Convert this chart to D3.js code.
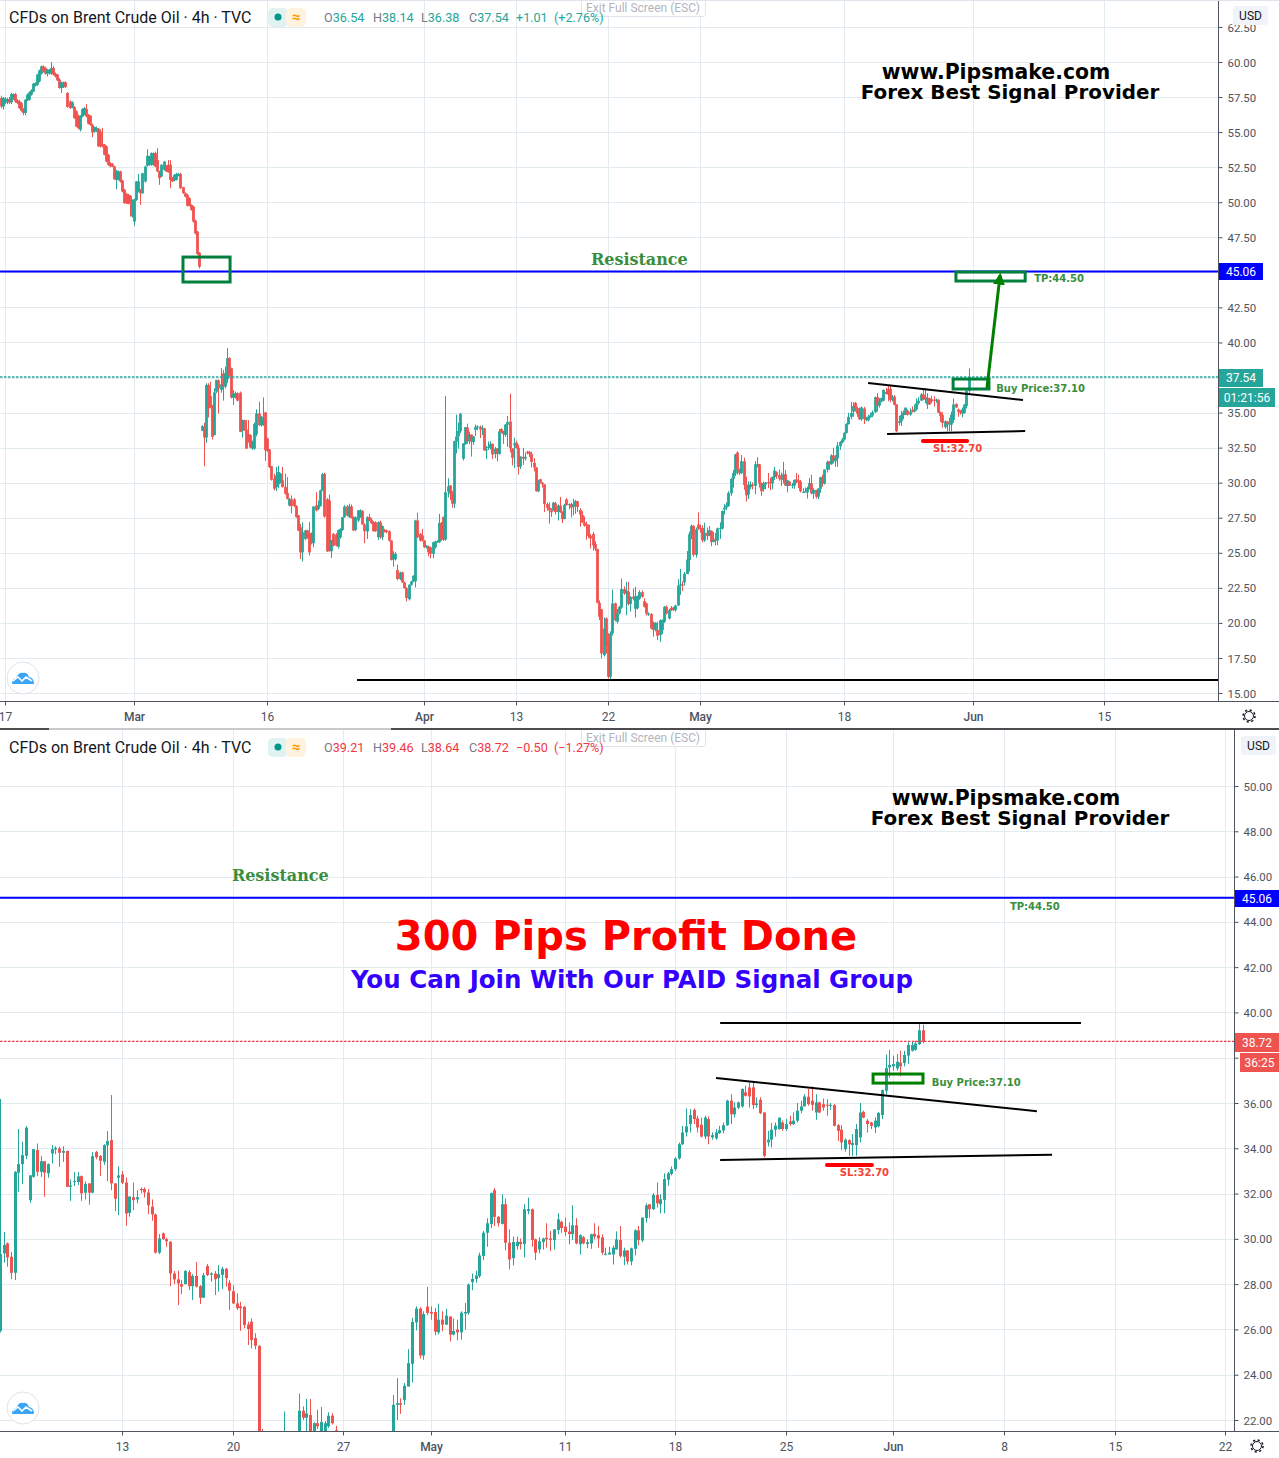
<!DOCTYPE html>
<html>
<head>
<meta charset="utf-8">
<script src="https://cdn.jsdelivr.net/npm/d3@7"></script>
<style>
    html, body { margin: 0; padding: 0; background: #fff; }
    svg { display: block; }
    text { font-family: Roboto, Arial, sans-serif; }
</style>
</head>
<body>
<div id="chart"></div>
<script>
//candles are [open, high, low, close], one row per 4h bar
const barsFebToMar = [
[57.43,57.6,56.7,56.83],[56.83,57.5,56.6,57.43],[57.12,57.5,57.0,57.36],[57.12,57.45,57.0,57.36],[57.36,57.5,57.0,57.12],
[57.12,57.8,57.0,57.71],[57.36,57.75,57.3,57.71],[57.71,57.8,57.1,57.19],[57.26,57.35,57.0,57.07],[57.19,57.3,56.65,56.71],
[57.07,57.15,56.45,56.52],[56.64,56.7,56.2,56.36],[56.36,57.35,56.2,57.31],[57.26,57.75,57.2,57.67],[57.31,57.9,57.25,57.83],
[57.67,58.05,57.6,57.98],[57.9,58.5,57.85,58.45],[58.31,58.55,58.25,58.5],[58.38,59.15,58.3,59.1],[58.62,59.45,58.55,59.4],
[59.17,59.75,59.1,59.69],[59.69,59.75,59.25,59.33],[59.57,59.65,59.1,59.17],[59.17,59.5,58.98,59.45],[59.17,59.5,59.1,59.45],
[59.17,60.0,59.1,59.57],[59.57,59.7,59.05,59.1],[59.17,59.25,58.9,58.98],[59.1,59.15,58.65,58.69],[58.74,58.85,58.1,58.14],
[58.14,58.6,57.79,58.55],[58.21,58.6,58.15,58.55],[58.55,58.62,58.15,58.21],[57.79,57.85,56.75,56.79],[57.19,57.25,56.65,56.71],
[56.79,57.2,56.7,57.12],[56.79,56.85,55.95,56.0],[56.48,56.55,55.35,55.4],[56.17,56.25,55.2,55.29],[55.17,56.2,55.05,56.17],
[56.12,56.7,56.05,56.64],[56.24,56.8,56.2,56.71],[56.64,57.0,56.05,56.12],[56.24,56.3,55.55,55.6],[56.17,56.2,55.45,55.52],
[55.52,55.6,54.64,54.98],[55.05,55.4,54.95,55.36],[55.05,55.4,55.0,55.29],[55.24,55.3,53.95,53.98],[55.05,55.2,53.9,53.98],
[54.14,55.29,53.9,53.98],[54.1,54.15,53.35,53.38],[53.98,54.05,52.85,52.9],[53.38,53.45,52.6,52.67],[52.79,52.85,52.5,52.55],
[52.71,52.8,52.5,52.55],[52.55,52.6,51.6,51.64],[51.59,52.3,50.93,52.26],[51.59,52.25,51.55,52.19],[52.19,52.25,51.4,51.48],
[51.55,51.6,50.7,50.76],[50.88,50.95,49.9,49.93],[50.6,50.65,49.88,49.93],[50.52,50.6,49.85,49.88],[50.45,50.5,48.98,49.98],
[48.98,50.2,48.9,50.17],[48.62,50.25,48.33,50.21],[50.17,51.5,50.1,51.48],[50.76,52.02,50.7,51.48],[50.88,50.95,49.81,50.64],
[50.64,52.1,50.6,52.07],[51.48,52.6,51.4,52.55],[52.6,53.78,52.55,53.31],[52.67,53.3,52.6,53.26],[52.67,53.55,52.6,53.5],
[52.67,53.55,52.6,53.5],[53.5,53.6,52.5,52.55],[53.02,53.86,52.15,52.19],[52.19,52.25,51.24,51.71],[51.83,52.7,51.8,52.67],
[52.31,52.95,52.25,52.9],[52.6,52.65,52.15,52.19],[52.67,53.02,52.1,52.14],[52.67,53.0,51.0,51.59],[51.71,51.8,51.45,51.48],
[51.55,52.0,51.5,51.95],[51.59,52.1,51.55,52.02],[51.88,52.1,51.85,52.02],[52.02,52.1,50.95,51.0],[51.07,51.1,50.6,50.64],
[50.64,50.7,50.35,50.4],[50.52,50.6,49.7,49.74],[50.29,50.35,49.7,49.74],[49.81,49.85,49.4,49.45],[49.69,49.75,48.55,48.62],
[48.69,48.75,47.7,47.78],[47.9,47.95,46.25,46.31],[46.4,46.45,45.28,45.4]
]

const barsMarToApr = [
[33.7,34.1,33.7,34.03],[33.94,34.27,31.17,33.22],[33.22,37.09,32.84,36.97],[36.97,37.09,34.65,35.3],[36.18,37.2,35.3,35.42],
[35.49,35.54,33.08,33.27],[33.39,36.73,33.39,36.44],[36.49,37.33,36.37,37.33],[37.28,37.37,34.94,36.73],[36.61,38.16,36.42,37.02],
[37.8,38.04,35.85,36.85],[36.85,38.28,36.73,37.8],[37.37,39.59,37.09,38.88],[38.88,38.95,37.61,37.61],[38.16,38.2,36.0,36.08],
[36.06,36.6,35.54,36.37],[36.08,36.5,36.0,36.37],[36.37,36.45,35.8,35.85],[36.42,36.5,33.6,33.63],[33.7,34.5,33.22,34.46],
[34.46,34.5,33.7,33.75],[33.79,34.46,32.4,32.43],[33.46,34.46,32.85,32.91],[33.39,33.45,32.45,32.5],[32.43,33.0,32.35,32.91],
[32.43,34.3,32.35,34.18],[33.46,35.23,33.3,34.94],[34.94,35.77,34.05,34.1],[34.1,34.75,34.0,34.7],[34.1,36.08,34.05,34.46],
[35.01,35.05,31.55,32.31],[33.15,33.2,32.2,32.27],[32.36,32.4,31.05,31.12],[31.17,31.2,30.15,30.21],[30.28,30.64,29.45,29.57],
[29.69,31.12,29.4,30.52],[29.88,31.2,29.6,30.76],[30.05,30.7,29.95,30.64],[30.17,31.12,29.65,29.69],[29.69,30.64,29.15,29.21],
[29.26,30.4,28.8,28.85],[28.38,28.9,28.3,28.85],[28.81,29.09,27.8,28.33],[28.81,28.9,28.25,28.33],[28.33,28.4,27.5,27.54],
[27.66,27.7,26.55,26.59],[26.82,27.06,24.55,25.03],[25.03,27.18,24.39,26.47],[25.99,26.65,25.9,26.59],[26.59,26.65,26.0,26.06],
[26.35,27.2,24.8,25.03],[26.4,26.45,25.6,25.68],[25.68,28.3,25.39,28.3],[28.38,29.33,27.95,28.02],[28.14,28.73,28.05,28.38],
[28.33,29.5,28.3,29.45],[29.45,30.7,29.4,30.6],[30.64,30.7,27.5,27.59],[28.81,28.9,25.05,25.11],[28.73,29.15,25.1,25.11],
[25.11,25.92,24.63,25.92],[26.35,26.4,25.45,25.51],[26.3,26.4,25.45,25.51],[25.44,26.65,25.3,26.63],[26.11,26.75,26.0,26.7],
[26.63,27.55,26.55,27.54],[27.54,28.4,27.5,28.3],[28.3,28.4,27.6,27.66],[27.54,28.5,27.5,28.3],[28.3,28.45,27.45,27.49],
[27.54,27.6,26.55,26.59],[26.63,27.6,26.55,27.54],[27.3,28.05,27.2,28.02],[27.54,28.1,27.5,28.02],[27.97,28.05,27.0,27.02],
[27.02,27.1,25.68,26.54],[26.52,27.6,25.99,27.54],[27.54,27.78,27.25,27.3],[27.35,27.5,27.05,27.11],[27.18,27.25,26.5,26.54],
[27.18,27.25,26.5,26.54],[26.11,27.25,25.9,27.18],[27.18,27.3,26.0,26.11],[26.11,26.95,25.9,26.9],[26.63,26.7,26.45,26.49],
[26.59,26.65,26.4,26.47],[26.54,26.6,25.8,25.87],[25.87,25.9,24.45,24.49],[24.53,25.11,24.01,24.92],[24.53,25.05,24.45,24.92],
[23.77,24.15,23.05,23.13],[23.13,23.65,23.05,23.6],[23.6,23.65,22.85,22.89],[22.89,22.95,22.45,22.48],[22.48,22.55,21.53,21.77],
[21.69,22.75,21.6,22.72],[22.72,23.0,22.65,22.96],[22.96,23.4,22.9,23.36],[22.96,27.35,22.53,27.3],[27.3,27.85,26.05,26.11],
[26.35,26.4,25.8,25.87],[26.23,26.7,25.8,25.87],[25.87,25.9,25.35,25.39],[25.39,25.55,25.3,25.51],[25.44,25.5,24.75,25.03],
[25.39,25.45,24.6,24.92],[24.92,25.8,24.6,25.75],[25.39,25.85,25.3,25.8],[25.75,25.9,25.7,25.82],[25.75,27.78,25.7,27.13],
[27.11,27.2,25.85,25.94],[27.54,27.6,25.85,25.94],[25.94,36.18,25.87,29.33]
]

const barsAprToMay = [
[29.36,30.31,28.95,29.73],[29.8,29.84,28.77,29.18],[29.21,29.42,28.22,28.5],[28.5,32.99,28.18,32.96],[32.92,34.85,32.08,33.3],
[33.3,34.29,32.42,33.7],[33.67,34.98,33.52,34.91],[31.71,32.82,31.59,32.8],[32.74,33.96,32.7,33.96],[33.92,34.21,32.77,32.96],
[32.96,33.65,32.74,33.43],[33.43,33.43,31.86,32.92],[32.89,33.33,32.7,33.3],[33.77,34.14,33.33,33.96],[33.95,34.09,33.74,34.02],
[33.99,34.07,33.18,33.8],[33.8,34.09,33.4,33.88],[33.88,33.9,32.28,32.3],[32.3,32.62,31.68,32.36],[32.51,32.95,32.33,32.55],
[32.51,32.95,32.37,32.76],[32.77,32.8,31.68,32.01],[32.04,32.54,31.74,32.42],[32.45,32.45,31.51,32.04],[32.04,33.83,32.01,33.65],
[33.83,33.88,33.52,33.61],[33.65,33.7,32.77,33.45],[33.4,34.18,33.27,34.14],[34.13,34.76,32.55,34.32],[34.36,36.35,32.15,32.45],
[32.45,32.45,31.23,31.77],[32.7,33.21,31.05,32.8],[32.85,33.0,32.42,32.48],[32.49,32.71,30.58,31.12],[31.15,31.87,30.98,31.87],
[31.84,32.48,31.27,31.71],[31.74,32.15,31.57,31.84],[32.2,32.27,32.01,32.15],[32.2,32.27,31.83,32.05],[32.05,32.2,31.09,31.48],
[31.42,31.74,30.8,31.08],[31.08,31.12,29.36,29.39],[29.39,30.21,29.33,30.02],[30.24,30.28,29.95,29.99],[29.99,30.05,29.65,29.89],
[29.87,29.9,27.91,28.47],[28.47,28.58,28.0,28.21],[28.21,28.59,27.08,28.03],[28.0,28.18,27.56,27.89],[28.0,28.62,28.0,28.58],
[28.53,28.62,27.74,27.91],[27.91,28.44,27.3,28.36],[28.36,28.98,27.86,27.89],[27.91,27.96,27.12,27.4],[27.4,28.5,27.4,28.4],
[28.8,28.89,28.36,28.4],[28.41,28.52,28.11,28.47],[28.47,28.58,27.52,28.22],[28.27,28.84,27.67,28.44],[28.41,28.77,27.78,28.68],
[28.68,28.71,27.89,28.27],[28.06,28.18,26.86,27.71],[27.69,27.96,27.12,27.15],[27.15,27.59,26.86,26.94],[27.02,27.22,25.94,26.94],
[27.0,27.03,26.05,26.19],[26.22,26.34,25.31,26.02],[26.34,26.49,25.16,25.53],[25.62,25.83,25.12,25.28],[25.27,25.3,21.4,21.43],
[21.43,21.6,20.2,20.44],[20.96,21.0,17.47,17.82],[17.7,20.39,17.6,19.6],[20.32,20.39,17.82,18.42],[18.65,19.25,16.04,16.16],
[16.16,19.4,16.0,19.25],[19.25,22.38,19.1,21.39],[21.39,21.45,20.1,20.2],[20.08,21.0,19.96,20.67],[20.67,21.2,20.6,21.15],
[21.1,23.17,21.0,22.41],[22.41,22.6,22.0,22.1],[22.1,22.93,20.55,22.29],[22.22,22.93,21.25,21.34],[21.34,21.9,20.8,21.86],
[21.86,22.45,21.6,21.72],[21.0,22.57,20.39,21.91],[21.05,21.95,20.95,21.86],[21.72,22.34,21.65,22.19],[22.19,22.3,21.8,21.86],
[21.55,21.75,21.1,21.15],[21.39,21.45,20.53,20.67],[20.58,20.75,20.5,20.67],[20.63,20.7,19.55,19.6],[20.01,20.1,19.01,19.49],
[19.49,20.05,19.4,20.01],[19.49,20.08,18.77,19.08],[19.13,20.25,18.65,20.2],[19.49,20.25,19.2,20.2],[20.08,21.2,20.0,21.15],
[21.15,21.25,20.6,20.67],[20.32,21.0,20.25,20.91],[21.08,21.2,20.85,20.91],[21.08,21.15,20.85,20.91],[20.91,21.3,20.8,21.24],
[21.24,23.11,21.2,22.67],[22.67,23.85,22.0,22.74],[22.74,22.96,22.27,22.67],[22.89,23.63,22.67,23.51],[23.48,25.13,23.48,24.51],
[24.48,26.51,23.66,26.33],[26.31,27.02,25.96,26.92],[26.92,26.98,24.72,24.85],[24.85,26.8,24.66,26.68],[27.01,27.88,26.63,26.73]
]

const barsMayToJun = [
[26.77,27.02,26.43,26.7],[26.77,26.95,25.74,25.9],[25.87,27.14,25.78,26.43],[26.43,26.8,25.92,26.21],[26.21,26.91,26.21,26.61],
[26.57,26.58,25.47,25.77],[25.77,26.48,25.74,25.93],[25.99,26.43,25.52,25.87],[25.87,26.8,25.55,26.74],[26.7,27.17,25.99,26.77],
[26.73,28.03,26.65,27.98],[28.09,28.47,27.73,28.23],[28.23,28.6,28.06,28.38],[28.35,29.39,28.28,29.27],[29.24,30.35,29.06,30.27],
[30.27,30.91,29.65,30.69],[30.66,32.05,30.48,32.02],[32.15,32.24,30.57,30.97],[30.97,31.01,30.54,30.69],[30.66,31.97,30.64,31.53],
[31.53,31.78,29.49,29.83],[29.83,30.42,28.65,29.09],[29.15,30.1,28.83,29.86],[29.68,30.1,29.53,29.87],[29.87,30.02,29.53,29.77],
[29.77,31.53,29.18,31.31],[31.23,31.82,31.09,31.31],[31.31,31.34,29.65,29.95],[29.98,30.01,29.06,29.39],[29.53,30.07,29.36,29.89],
[29.86,30.05,29.53,30.01],[30.05,30.69,29.61,29.98],[30.02,30.35,29.46,29.95],[29.95,30.42,29.53,30.42],[30.39,31.13,30.2,30.86],
[30.75,30.81,30.27,30.48],[30.54,30.94,30.13,30.3],[30.32,30.72,29.76,30.21],[30.21,31.48,29.95,30.6],[30.6,30.91,29.76,29.8],
[29.76,30.2,29.31,30.16],[30.07,30.13,29.76,29.8],[29.77,29.98,29.59,29.85],[29.8,30.23,29.56,30.2],[30.23,30.69,29.98,30.1],
[30.16,30.57,29.61,30.02],[30.07,30.2,29.3,29.39],[29.3,29.61,29.27,29.34],[29.31,29.65,29.31,29.39],[29.31,29.71,28.87,29.61],
[29.53,30.33,29.53,29.98],[29.95,30.57,29.17,29.24],[29.21,29.61,28.84,29.49],[29.49,29.49,28.87,29.0],[29.0,29.61,28.83,29.58],
[29.56,30.42,29.27,30.38],[30.38,30.57,29.71,29.95],[29.93,30.94,29.86,30.94],[30.92,31.57,30.72,31.48],[31.53,31.53,30.91,31.31],
[31.31,32.02,31.28,31.94],[31.94,32.49,31.38,31.57],[31.53,31.97,31.13,31.75],[31.72,32.9,31.13,32.64],[32.61,32.96,32.34,32.9],
[32.87,33.2,32.8,33.08],[33.08,33.6,33.0,33.55],[33.55,34.25,33.5,34.18],[34.18,34.99,34.14,34.7],[34.7,35.76,34.52,34.97],
[35.07,35.73,34.7,35.47],[35.69,35.76,35.07,35.29],[35.32,35.44,34.7,34.92],[35.04,35.36,34.48,34.52],[34.52,35.44,34.41,35.36],
[35.29,35.41,34.18,34.52],[34.48,34.7,34.38,34.58],[34.44,34.85,34.38,34.7],[34.67,34.99,34.63,34.8],[34.79,35.14,34.67,35.02],
[35.02,36.14,34.99,36.1],[36.1,36.39,35.07,35.5],[35.5,36.03,35.36,35.8],[35.79,36.06,35.73,36.03],[35.85,36.64,35.8,36.62],
[36.47,36.76,36.29,36.32],[36.69,36.91,35.8,36.29],[36.69,36.94,35.73,35.91],[35.91,36.25,35.8,35.98],[36.14,36.25,35.51,35.55],
[35.58,35.6,33.6,33.67],[34.26,34.77,34.08,34.38],[34.38,35.11,34.04,34.82],[34.82,35.14,34.52,35.0],[34.85,35.36,34.82,35.35],
[35.14,35.22,34.77,34.85],[34.85,35.29,34.77,35.07],[35.19,35.44,35.0,35.07],[35.07,35.58,35.02,35.22],[35.22,36.0,35.14,35.66],
[35.66,36.1,35.55,35.85],[35.85,36.39,35.85,36.29],[36.28,36.62,35.88,35.95],[36.1,36.73,35.66,35.92],[35.58,36.39,35.26,36.03],
[36.03,36.06,35.55,35.58],[35.95,36.2,35.66,35.8],[35.92,36.17,35.44,35.88],[35.88,36.0,35.7,35.92],[35.91,35.95,34.97,34.99],
[35.02,35.07,34.33,34.77],[34.82,35.02,33.93,34.26],[33.96,34.44,33.85,34.38],[34.36,34.4,33.67,34.18],[34.14,34.63,33.67,34.23],
[34.14,35.07,33.67,34.85],[34.48,36.0,34.26,35.58],[35.61,35.66,35.32,35.36],[35.22,35.29,34.7,35.07],[35.14,35.17,34.85,34.99],
[34.92,35.36,34.67,35.22],[34.97,35.61,34.92,35.56],[35.47,36.6,35.29,36.57],[36.54,38.14,36.38,37.54],[37.57,38.35,37.13,37.68],
[37.62,38.09,37.43,37.72],[37.53,38.16,37.43,37.82],[37.79,38.31,37.18,37.62],[37.76,38.31,37.62,38.12],[38.09,38.68,37.72,38.56],
[38.31,38.72,38.27,38.56],[38.35,38.75,38.31,38.63],[38.6,39.56,38.56,39.21],[39.21,39.46,38.64,38.72]
]

//time axes: bar index of each tick, and its label
const topTickBars = [2, 66, 129, 200, 243, 285, 326, 392, 451, 511]
const topTickLabels = ['17', 'Mar', '16', 'Apr', '13', '22', 'May', '18', 'Jun', '15']
const bottomTickBars = [243, 273, 303, 326, 362, 392, 422, 451, 481, 511, 541]
const bottomTickLabels = ['13', '20', '27', 'May', '11', '18', '25', 'Jun', '8', '15', '22']

//price axes, the hidden ones sit under a price tag
const topPrices = [62.5, 60, 57.5, 55, 52.5, 50, 47.5, 45, 42.5, 40, 37.5, 35, 32.5, 30, 27.5, 25, 22.5, 20, 17.5, 15]
const topHiddenPrices = [45, 37.5]
const bottomPrices = [50, 48, 46, 44, 42, 40, 38, 36, 34, 32, 30, 28, 26, 24, 22]
const bottomHiddenPrices = [38]

const resistancePrice = 45.06
const topLastBar = 449 //the upper screenshot was taken 12 bars earlier

//drawn objects, as [bar, price] anchors
const topTrendLines = [
    [[403, 37.1], [473.9, 35.89]],
    [[411.7, 33.47], [474.9, 33.68]],
    [[169.7, 15.92], [563.4, 15.92]]
]
const topBoxes = [
    [[89.2, 46.09], [111.5, 44.31]],
    [[443.2, 45.02], [474.9, 44.38]],
    [[441.9, 37.39], [458.3, 36.68]]
]
const topStop = [[428.1, 32.97], [448.3, 32.97]]
const topArrow = [[457.4, 36.75], [463.4, 44.8]]

const bottomTrendLines = [
    [[403.1, 37.1], [489.9, 35.64]],
    [[404.2, 33.48], [494, 33.72]],
    [[404.2, 39.53], [501.8, 39.53]]
]
const bottomBoxes = [
    [[445.6, 37.28], [459.1, 36.88]]
]
const bottomStop = [[433.1, 33.26], [445.3, 33.26]]

const topNotes = [
    {text: 'Buy Price:37.10', at: [461.6, 36.75], kind: 'buy'},
    {text: 'TP:44.50', at: [479, 44.59], kind: 'buy'},
    {text: 'SL:32.70', at: [432.7, 32.47], kind: 'sl'},
    {text: 'Resistance', at: [277.2, 45.95], kind: 'res'}
]
const bottomNotes = [
    {text: 'Buy Price:37.10', at: [461.5, 36.92], kind: 'buy'},
    {text: 'TP:44.50', at: [482.6, 44.69], kind: 'buy'},
    {text: 'SL:32.70', at: [436.6, 32.95], kind: 'sl'},
    {text: 'Resistance', at: [272.7, 46.06], kind: 'res'}
]

const upColor = '#26a69a'
const downColor = '#ef5350'
const gridColor = '#e1ebf0'
const axisColor = '#50535e'
const tickTextColor = '#4c525e'
const noteStyles = {
    buy: {fill: '#388e3c', size: 10, family: '"DejaVu Sans"'},
    sl: {fill: '#f44336', size: 10, family: '"DejaVu Sans"'},
    res: {fill: '#388e3c', size: 16, family: '"DejaVu Serif"'}
}

const bars = [...barsFebToMar, ...barsMarToApr, ...barsAprToMay, ...barsMayToJun]

const svg = d3.select('#chart').append('svg').attr('width', 1279).attr('height', 1458)
svg.append('rect').attr('width', 1279).attr('height', 1458).attr('fill', '#fff')

const defs = svg.append('defs')
defs.append('marker').attr('id', 'arrowHead')
    .attr('viewBox', '0 0 10 10').attr('refX', 8).attr('refY', 5)
    .attr('markerWidth', 4).attr('markerHeight', 4).attr('orient', 'auto')
    .append('path').attr('d', 'M0,0L10,5L0,10Z').attr('fill', '#008000')

const drawPane = (pane) => {
    const {id, top, bottom, right, tickBars, tickLabels, tickPx, prices, priceDomain, priceRange} = pane
    const g = svg.append('g').attr('id', id)

    const x = d3.scaleLinear().domain(tickBars).range(tickPx)
    const y = d3.scaleLinear().domain(priceDomain).range(priceRange)

    defs.append('clipPath').attr('id', id + 'Clip')
        .append('rect').attr('x', 0).attr('y', top).attr('width', right).attr('height', bottom - top)

    //grid
    const plot = g.append('g').attr('clip-path', `url(#${id}Clip)`)
    plot.selectAll('line.gridH').data(prices).enter().append('line').attr('class', 'gridH')
        .attr('x1', 0).attr('x2', right)
        .attr('y1', d => Math.round(y(d)) + 0.5).attr('y2', d => Math.round(y(d)) + 0.5)
        .attr('stroke', gridColor)
    plot.selectAll('line.gridV').data(tickBars).enter().append('line').attr('class', 'gridV')
        .attr('y1', top).attr('y2', bottom)
        .attr('x1', d => Math.round(x(d)) + 0.5).attr('x2', d => Math.round(x(d)) + 0.5)
        .attr('stroke', gridColor)

    //candles
    const shown = bars.map((b, i) => ({i, o: b[0], h: b[1], l: b[2], c: b[3]}))
        .filter(d => d.i <= pane.lastBar && x(d.i) > -4)
    const candle = plot.selectAll('g.candle').data(shown).enter().append('g').attr('class', 'candle')
        .attr('fill', d => d.c >= d.o ? upColor : downColor)
    candle.append('rect')
        .attr('x', d => Math.round(x(d.i))).attr('width', 1)
        .attr('y', d => y(d.h)).attr('height', d => Math.max(1, y(d.l) - y(d.h)))
    candle.append('rect')
        .attr('x', d => Math.round(x(d.i)) + 0.5 - pane.bodyWidth / 2).attr('width', pane.bodyWidth)
        .attr('y', d => y(Math.max(d.o, d.c)))
        .attr('height', d => Math.max(1, Math.abs(y(d.o) - y(d.c))))

    //last price line, a little wider than a pixel so its hue survives
    plot.append('line').attr('x1', 0).attr('x2', right)
        .attr('y1', y(pane.lastPrice)).attr('y2', y(pane.lastPrice))
        .attr('stroke', pane.lastColor).attr('stroke-width', 1.4).attr('stroke-dasharray', '2.5 1.5')

    //resistance
    plot.append('line').attr('x1', 0).attr('x2', right)
        .attr('y1', y(resistancePrice)).attr('y2', y(resistancePrice))
        .attr('stroke', '#0000ff').attr('stroke-width', 2)

    //trend lines
    plot.selectAll('line.trend').data(pane.trendLines).enter().append('line').attr('class', 'trend')
        .attr('x1', d => x(d[0][0])).attr('y1', d => y(d[0][1]))
        .attr('x2', d => x(d[1][0])).attr('y2', d => y(d[1][1]))
        .attr('stroke', '#000').attr('stroke-width', 2)

    plot.append('line')
        .attr('x1', x(pane.stop[0][0])).attr('y1', y(pane.stop[0][1]))
        .attr('x2', x(pane.stop[1][0])).attr('y2', y(pane.stop[1][1]))
        .attr('stroke', '#ff0000').attr('stroke-width', 4).attr('stroke-linecap', 'round')

    plot.selectAll('rect.box').data(pane.boxes).enter().append('rect').attr('class', 'box')
        .attr('x', d => x(d[0][0])).attr('y', d => y(d[0][1]))
        .attr('width', d => x(d[1][0]) - x(d[0][0])).attr('height', d => y(d[1][1]) - y(d[0][1]))
        .attr('fill', 'none').attr('stroke', pane.boxColor).attr('stroke-width', 3)

    if (pane.arrow) {
        plot.append('line')
            .attr('x1', x(pane.arrow[0][0])).attr('y1', y(pane.arrow[0][1]))
            .attr('x2', x(pane.arrow[1][0])).attr('y2', y(pane.arrow[1][1]))
            .attr('stroke', '#008000').attr('stroke-width', 3).attr('marker-end', 'url(#arrowHead)')
    }

    //notes on the chart
    plot.selectAll('text.note').data(pane.notes).enter().append('text').attr('class', 'note')
        .attr('x', d => x(d.at[0])).attr('y', d => y(d.at[1])).attr('dy', '0.35em')
        .text(d => d.text)
        .style('font-family', d => noteStyles[d.kind].family)
        .style('font-weight', 700)
        .style('font-size', d => noteStyles[d.kind].size + 'px')
        .attr('fill', d => noteStyles[d.kind].fill)

    //axes
    const priceFormat = d3.format('.2f')
    const yAxis = d3.axisRight(y).tickValues(prices).tickSize(4).tickPadding(5)
        .tickFormat(d => pane.hiddenPrices.includes(d) ? '' : priceFormat(d))
    const yG = g.append('g').attr('transform', `translate(${right + 0.5},0)`).call(yAxis)
    yG.select('.domain').attr('d', `M0,${top}V${bottom}`).attr('stroke', axisColor)
    yG.selectAll('.tick line').attr('stroke', axisColor)
    yG.selectAll('text').attr('fill', tickTextColor).attr('dy', '0.36em').style('font-size', '11.4px')

    const xAxis = d3.axisBottom(x).tickValues(tickBars)
        .tickFormat((d, i) => tickLabels[i]).tickSize(4).tickPadding(7)
    const xG = g.append('g').attr('transform', `translate(0,${bottom + 0.5})`).call(xAxis)
    xG.select('.domain').attr('d', `M0,0H1279`).attr('stroke', axisColor)
    xG.selectAll('.tick line').attr('stroke', axisColor)
    xG.selectAll('text').attr('fill', tickTextColor).style('font-size', '12px')
        .style('font-weight', (d, i) => /[A-Z]/.test(tickLabels[i]) ? 500 : 400)

    //price tags
    pane.tags.forEach(t => {
        g.append('rect').attr('x', t.x).attr('y', t.y).attr('width', t.w).attr('height', t.h).attr('fill', t.fill)
        g.append('text').attr('x', t.x + t.w / 2).attr('y', t.y + t.h / 2).attr('dy', '0.35em')
            .attr('text-anchor', 'middle').attr('fill', '#fff').style('font-size', '12px').text(t.text)
    })

    //currency chip
    g.append('rect').attr('x', pane.usdX).attr('y', top + 6).attr('width', 35).attr('height', 19).attr('rx', 3).attr('fill', '#f0f3fa')
    g.append('text').attr('x', pane.usdX + 17.5).attr('y', top + 15.5).attr('dy', '0.35em').attr('text-anchor', 'middle')
        .attr('fill', '#131722').style('font-size', '12px').text('USD')

    //exit full screen hint from the browser
    g.append('rect').attr('x', 581.5).attr('y', top - 1.5).attr('width', 124).attr('height', 18).attr('rx', 2)
        .attr('fill', '#fff').attr('stroke', '#e0e3eb')
    g.append('text').attr('x', 643).attr('y', top + 8).attr('dy', '0.35em').attr('text-anchor', 'middle')
        .attr('fill', '#b2b5be').style('font-size', '12px').text('Exit Full Screen (ESC)')

    //title and legend
    g.append('text').attr('x', 9).attr('y', top + 23).attr('fill', '#131722').style('font-size', '16px')
        .text('CFDs on Brent Crude Oil · 4h · TVC')
    g.append('rect').attr('x', 268).attr('y', top + 8).attr('width', 20).attr('height', 19).attr('rx', 5).attr('fill', '#e0f2f1')
    g.append('rect').attr('x', 286).attr('y', top + 8).attr('width', 20).attr('height', 19).attr('rx', 5).attr('fill', '#fff3e0')
    g.append('circle').attr('cx', 278).attr('cy', top + 17).attr('r', 3.5).attr('fill', '#009688')
    g.append('text').attr('x', 296).attr('y', top + 22).attr('text-anchor', 'middle').attr('fill', '#ff9800')
        .style('font-size', '15px').style('font-weight', 700).text('≈')
    const legend = g.append('g').style('font-size', '12.6px')
    pane.legend.forEach(l => {
        const t = legend.append('text').attr('x', l.x).attr('y', top + 22)
        if (l.label) t.append('tspan').attr('fill', '#787b86').text(l.label)
        t.append('tspan').attr('fill', pane.lastColor).text(l.value)
    })

    //logo button
    const logo = g.append('g').attr('transform', `translate(23,${bottom - 23})`)
    logo.append('circle').attr('r', 16).attr('fill', '#fff').attr('stroke', '#e0e3eb')
    logo.append('path').attr('fill', '#3ba4f5')
        .attr('d', 'M-11,6 Q-11,1 -7,0 Q-4,-6 0,-5 Q4,-6 6,-1 Q11,0 11,6Z')
    logo.append('path').attr('fill', 'none').attr('stroke', '#fff').attr('stroke-width', 1.6)
        .attr('d', 'M-10,3 L-5,-1 L-1,3 L3,-1 L9,3')

    //settings gear
    const gear = g.append('g').attr('transform', `translate(${pane.gearX},${bottom + 15})`)
    gear.append('circle').attr('r', 4.5).attr('fill', 'none').attr('stroke', '#131722')
    gear.append('circle').attr('r', 6).attr('fill', 'none').attr('stroke', '#131722').attr('stroke-width', 1.5)
        .attr('stroke-dasharray', '2.2 2.5')
}

drawPane({
    id: 'topPane', top: 0, bottom: 701, right: 1218, lastBar: topLastBar,
    tickBars: topTickBars, tickLabels: topTickLabels,
    tickPx: [5, 134, 267, 424, 516, 608, 700, 844, 973, 1104],
    prices: topPrices, hiddenPrices: topHiddenPrices, priceDomain: [60, 15], priceRange: [62, 693], bodyWidth: 2.8,
    lastPrice: 37.54, lastColor: upColor, boxColor: '#00803c',
    trendLines: topTrendLines, boxes: topBoxes, stop: topStop, arrow: topArrow, notes: topNotes,
    usdX: 1233, gearX: 1249,
    tags: [
        {x: 1219, y: 263, w: 44, h: 17, fill: '#0000ff', text: '45.06'},
        {x: 1219, y: 369, w: 44, h: 18, fill: upColor, text: '37.54'},
        {x: 1219, y: 388, w: 56, h: 19, fill: upColor, text: '01:21:56'}
    ],
    legend: [
        {x: 324, label: 'O', value: '36.54'}, {x: 373, label: 'H', value: '38.14'},
        {x: 421, label: 'L', value: '36.38'}, {x: 469, label: 'C', value: '37.54'},
        {x: 516, value: '+1.01'}, {x: 554, value: '(+2.76%)'}
    ]
})

drawPane({
    id: 'bottomPane', top: 730, bottom: 1431, right: 1234, lastBar: bars.length,
    tickBars: bottomTickBars, tickLabels: bottomTickLabels,
    tickPx: [122, 233, 343, 431, 565, 675, 786, 893, 1004, 1115, 1225],
    prices: bottomPrices, hiddenPrices: bottomHiddenPrices, priceDomain: [50, 22], priceRange: [786, 1420], bodyWidth: 3,
    lastPrice: 38.72, lastColor: '#f23645', boxColor: '#008000',
    trendLines: bottomTrendLines, boxes: bottomBoxes, stop: bottomStop, notes: bottomNotes,
    usdX: 1241, gearX: 1257,
    tags: [
        {x: 1235, y: 890, w: 44, h: 17, fill: '#0000ff', text: '45.06'},
        {x: 1235, y: 1033, w: 44, h: 19, fill: downColor, text: '38.72'},
        {x: 1240, y: 1053, w: 39, h: 19, fill: downColor, text: '36:25'}
    ],
    legend: [
        {x: 324, label: 'O', value: '39.21'}, {x: 373, label: 'H', value: '39.46'},
        {x: 421, label: 'L', value: '38.64'}, {x: 469, label: 'C', value: '38.72'},
        {x: 516, value: '−0.50'}, {x: 554, value: '(−1.27%)'}
    ]
})

//window edge on top, and the divider between the two screenshots
svg.append('rect').attr('x', 0).attr('y', 0).attr('width', 1279).attr('height', 1).attr('fill', '#e0e3eb')
svg.append('rect').attr('x', 0).attr('y', 728).attr('width', 1279).attr('height', 2).attr('fill', '#4c4c50')
svg.append('rect').attr('x', 49).attr('y', 728).attr('width', 342).attr('height', 2).attr('fill', '#c8c9cc')

//watermark text pasted on the screenshots
const headline = svg.append('g').style('font-family', '"DejaVu Sans"').style('font-weight', 700)
const addText = (text, x, y, size, fill) => headline.append('text')
    .attr('x', x).attr('y', y).attr('dy', '0.35em').attr('text-anchor', 'middle')
    .attr('fill', fill).style('font-family', '"DejaVu Sans"').style('font-size', size + 'px').text(text)

addText('www.Pipsmake.com', 996, 72, 20.4, '#000')
addText('Forex Best Signal Provider', 1010, 92, 19.9, '#000')
addText('www.Pipsmake.com', 1006, 798, 20.4, '#000')
addText('Forex Best Signal Provider', 1020, 818, 19.9, '#000')
addText('300 Pips Profit Done', 626, 936, 40, '#ff0000')
addText('You Can Join With Our PAID Signal Group', 632, 979, 24.5, '#3300ff')
</script>
</body>
</html>
